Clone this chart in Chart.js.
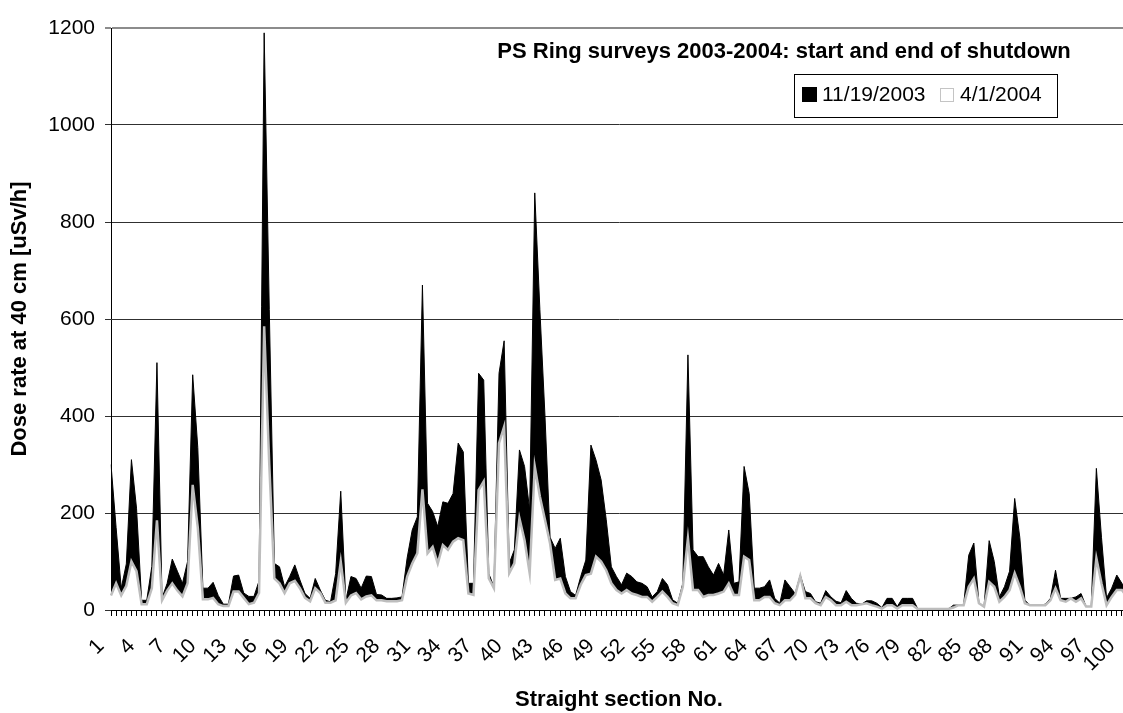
<!DOCTYPE html>
<html>
<head>
<meta charset="utf-8">
<script src="https://cdn.jsdelivr.net/npm/chart.js@4.4.1/dist/chart.umd.min.js"></script>
<style>
  html, body { margin: 0; padding: 0; background: #fff; overflow: hidden; }
  #wrap { width: 1128px; height: 713px; }
</style>
</head>
<body>
<div id="wrap"><canvas id="chart" width="1128" height="713"></canvas></div>
<script>
// Two readings per straight section (1..100), labelled every third section
const categories = [];
for (let s = 1; s <= 100; s++) categories.push(String(s), String(s));

const seriesNames = ["11/19/2003", "4/1/2004"];

// Dose rate at 40 cm [uSv/h], start of shutdown
const dose2003 = [
    300, 170, 45, 95, 310, 210, 20, 20, 90, 510,
    25, 55, 105, 80, 55, 100, 485, 335, 45, 45,
    57, 30, 12, 12, 70, 72, 35, 28, 28, 60,
    1190, 620, 96, 89, 48, 69, 93, 62, 34, 24,
    65, 41, 20, 17, 75, 245, 20, 69, 65, 45,
    70, 69, 32, 31, 24, 24, 25, 27, 107, 165,
    192, 670, 220, 203, 172, 223, 220, 240, 344, 326,
    55, 55, 488, 474, 75, 48, 488, 555, 96, 124,
    330, 296, 206, 860, 620, 400, 150, 127, 148, 69,
    38, 30, 69, 103, 340, 309, 268, 186, 89, 69,
    52, 76, 69, 58, 55, 48, 27, 38, 65, 52,
    21, 14, 55, 526, 124, 110, 110, 89, 72, 96,
    72, 165, 55, 58, 296, 240, 45, 45, 48, 62,
    24, 14, 62, 48, 34, 72, 38, 34, 17, 14,
    40, 27, 18, 15, 40, 24, 14, 12, 19, 19,
    14, 5, 24, 24, 7, 24, 24, 24, 3, 2,
    2, 2, 2, 2, 2, 10, 10, 10, 113, 138,
    14, 7, 143, 100, 27, 48, 80, 230, 150, 20,
    10, 10, 10, 12, 24, 82, 24, 24, 24, 27,
    34, 7, 7, 292, 150, 25, 45, 72, 55, 40
];

// Dose rate at 40 cm [uSv/h], end of shutdown
const dose2004 = [
    30, 55, 30, 50, 100, 80, 12, 12, 45, 185,
    20, 40, 55, 40, 28, 55, 258, 170, 22, 22,
    25, 12, 8, 8, 38, 38, 25, 12, 15, 35,
    585, 300, 65, 55, 35, 55, 60, 45, 25, 18,
    45, 35, 15, 15, 20, 100, 15, 30, 35, 22,
    28, 30, 20, 20, 18, 18, 18, 20, 69, 96,
    117, 249, 117, 130, 96, 134, 124, 141, 148, 144,
    34, 31, 247, 265, 65, 45, 344, 378, 76, 96,
    189, 144, 76, 296, 234, 186, 137, 62, 65, 34,
    24, 24, 52, 72, 75, 110, 100, 82, 55, 41,
    34, 41, 34, 31, 27, 27, 17, 27, 38, 27,
    14, 10, 48, 148, 41, 41, 27, 31, 31, 34,
    38, 55, 31, 31, 110, 103, 20, 20, 27, 27,
    14, 10, 20, 20, 31, 70, 24, 24, 14, 10,
    27, 20, 10, 10, 17, 10, 10, 12, 14, 10,
    7, 3, 10, 10, 3, 10, 10, 10, 2, 2,
    2, 2, 2, 2, 2, 5, 10, 10, 48, 65,
    14, 7, 58, 48, 17, 27, 41, 76, 48, 14,
    10, 10, 10, 10, 20, 45, 20, 17, 24, 17,
    24, 7, 7, 107, 55, 10, 27, 41, 41, 27
];

const yTicks = [0, 200, 400, 600, 800, 1000, 1200];
const chartTitle = "PS Ring surveys 2003-2004: start and end of shutdown";

const FONT = '"Liberation Sans", Arial, sans-serif';

// title and boxed legend sit inside the plot area, as in the original
const overlay = {
    id: 'overlay',
    afterDraw(chart) {
        const ctx = chart.ctx;
        ctx.save();
        ctx.fillStyle = '#000';
        ctx.font = 'bold 22px ' + FONT;
        ctx.textAlign = 'center';
        ctx.textBaseline = 'alphabetic';
        ctx.fillText(chartTitle, 784, 58);

        ctx.fillStyle = '#fff';
        ctx.fillRect(794, 74, 263, 43);
        ctx.strokeStyle = '#000';
        ctx.lineWidth = 1;
        ctx.strokeRect(794.5, 74.5, 263, 43);

        ctx.font = '21px ' + FONT;
        ctx.textAlign = 'left';
        const ds = chart.data.datasets;
        // black swatch
        ctx.fillStyle = ds[0].backgroundColor;
        ctx.fillRect(802, 87, 15, 15);
        ctx.fillStyle = '#000';
        ctx.fillText(ds[0].label, 822, 101);
        // white swatch
        ctx.fillStyle = ds[1].backgroundColor;
        ctx.fillRect(940, 88, 14, 14);
        ctx.strokeStyle = '#c4c4c4';
        ctx.strokeRect(940.5, 88.5, 13, 13);
        ctx.fillStyle = '#000';
        ctx.fillText(ds[1].label, 960, 101);
        ctx.restore();
    }
};

new Chart(document.getElementById('chart'), {
    type: 'line',
    data: {
        labels: categories,
        datasets: [
            {
                label: seriesNames[0],
                data: dose2003,
                backgroundColor: '#000',
                borderColor: '#000',
                borderWidth: 1,
                fill: 'origin',
                pointRadius: 0,
                tension: 0,
                order: 2
            },
            {
                label: seriesNames[1],
                data: dose2004,
                backgroundColor: '#fff',
                borderColor: '#bdbdbd',
                borderWidth: 2.5,
                fill: 'origin',
                pointRadius: 0,
                tension: 0,
                order: 1
            }
        ]
    },
    options: {
        responsive: false,
        animation: false,
        devicePixelRatio: 1,
        layout: { padding: { top: 28, right: 1, left: 0, bottom: 0 } },
        plugins: {
            legend: { display: false },
            tooltip: { enabled: false }
        },
        scales: {
            x: {
                type: 'category',
                offset: false,
                grid: {
                    display: true,
                    drawOnChartArea: false,
                    drawTicks: true,
                    tickLength: 6,
                    color: '#000'
                },
                border: { display: true, color: '#000', width: 1 },
                ticks: {
                    autoSkip: false,
                    minRotation: 45,
                    maxRotation: 45,
                    padding: 18,
                    labelOffset: -10,
                    color: '#000',
                    font: { family: FONT, size: 21 },
                    callback: (v, i) => (i % 6 === 0 ? categories[i] : '')
                },
                title: {
                    display: true,
                    text: 'Straight section No.',
                    color: '#000',
                    font: { family: FONT, size: 22, weight: 'bold' },
                    padding: { top: 0, bottom: 0 }
                },
                afterFit: s => {
                    s.height = 103;
                    s.paddingLeft = 0;
                    s.paddingRight = 0;
                }
            },
            y: {
                min: 0,
                max: 1200,
                afterBuildTicks: s => { s.ticks = yTicks.map(v => ({ value: v })); },
                grid: {
                    color: c => (c.tick && c.tick.value === 1200 ? '#8c8c8c' : '#303030'),
                    lineWidth: c => (c.tick && c.tick.value === 1200 ? 2 : 1),
                    tickLength: 6,
                    drawTicks: true
                },
                border: { display: true, color: '#000', width: 1 },
                ticks: {
                    padding: 10,
                    color: '#000',
                    font: { family: FONT, size: 21 },
                    callback: v => String(v)
                },
                title: {
                    display: true,
                    text: 'Dose rate at 40 cm [uSv/h]',
                    color: '#000',
                    font: { family: FONT, size: 22, weight: 'bold' },
                    padding: { top: 7, bottom: 0 }
                },
                afterFit: s => {
                    s.width = 111;
                    s.paddingTop = 0;
                    s.paddingBottom = 0;
                }
            }
        }
    },
    plugins: [overlay]
});
</script>
</body>
</html>
